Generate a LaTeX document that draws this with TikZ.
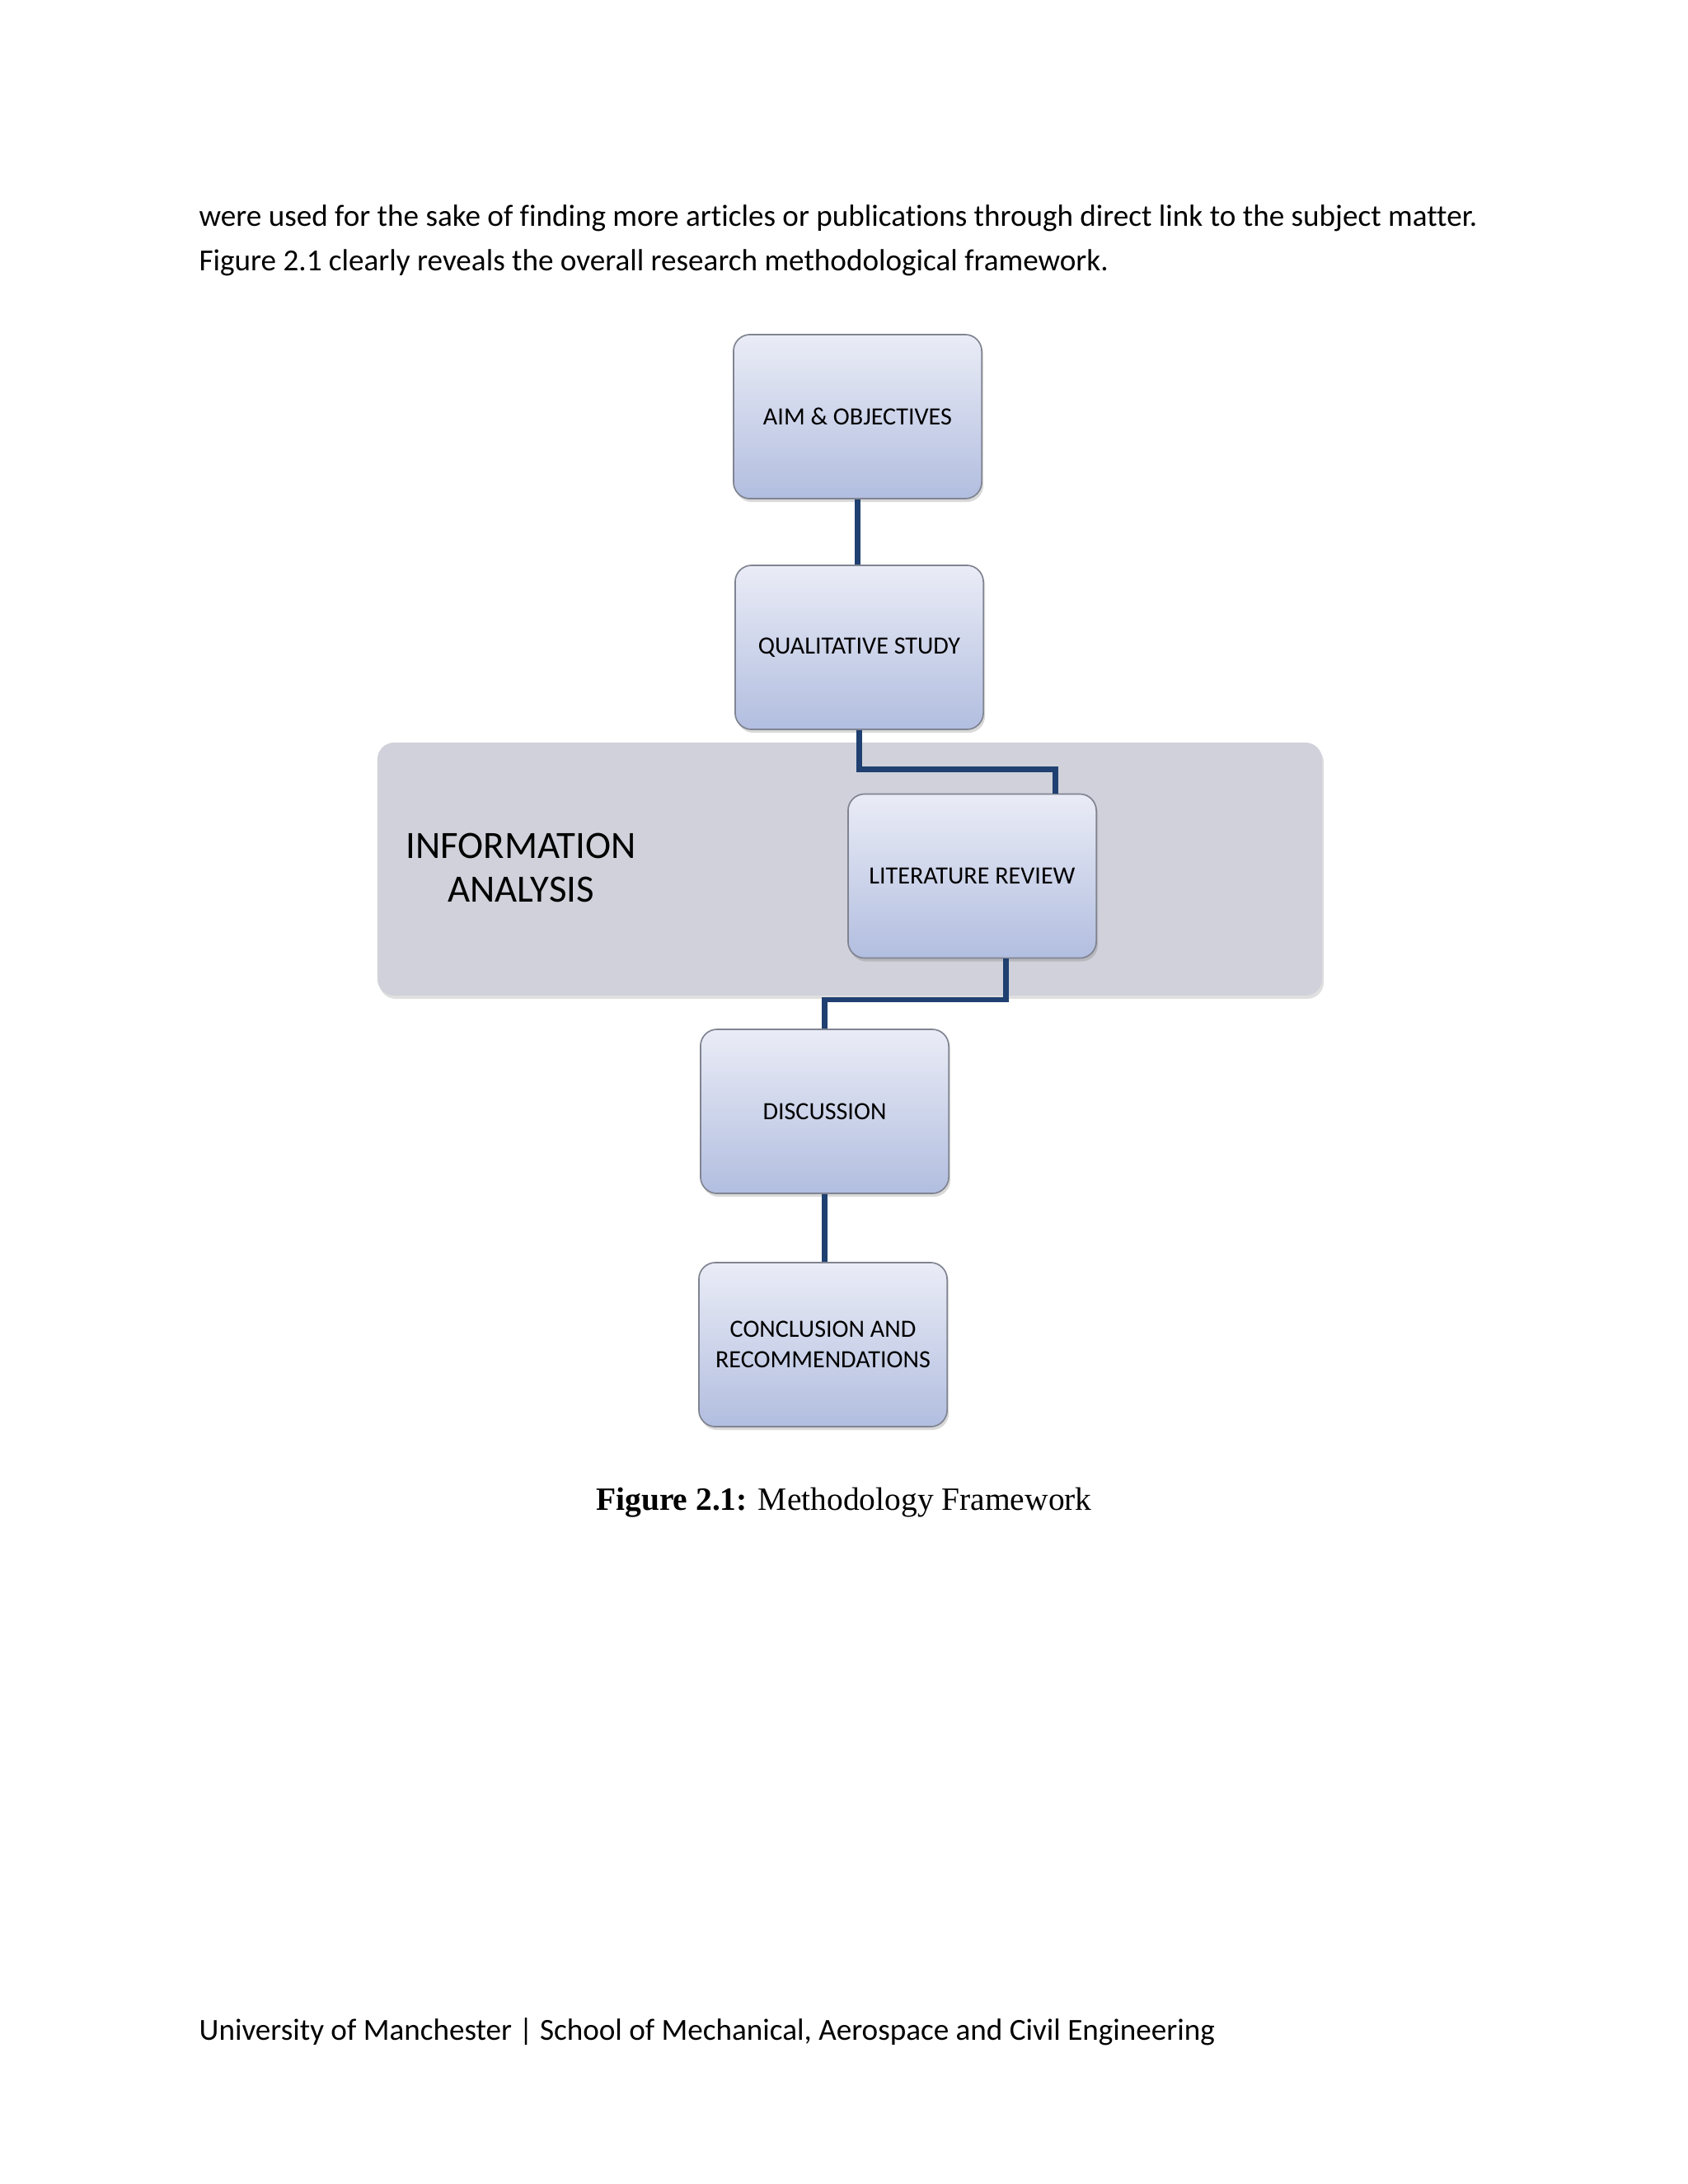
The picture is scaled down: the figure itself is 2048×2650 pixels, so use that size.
\documentclass[tikz,border=0pt]{standalone}
\usepackage{fontspec}
\setmainfont[Ligatures={NoCommon}]{Carlito}
\newfontfamily\capfont{Liberation Serif}
\usetikzlibrary{calc,shadows}

\definecolor{linkblue}{RGB}{31,64,112}
\definecolor{boxtop}{RGB}{234,236,246}
\definecolor{boxbot}{RGB}{178,190,224}
\definecolor{boxedge}{RGB}{128,132,145}
\definecolor{bandgray}{RGB}{208,209,218}

\begin{document}
\begin{tikzpicture}[
    x=0.29883pt, y=-0.29883pt,
    et/.style={font=\fontsize{11.1}{13}\selectfont, inner sep=0pt, anchor=base west},
    blk/.style={draw=boxedge, line width=0.5pt, rounded corners=6pt,
      top color=boxtop, bottom color=boxbot,
      minimum width=90pt, minimum height=59.5pt, inner sep=2pt,
      align=center, font=\fontsize{9}{11}\selectfont,
      drop shadow={opacity=0.3, shadow xshift=0.6pt, shadow yshift=-1.2pt}},
    grp/.style={fill=bandgray, rounded corners=6pt,
      minimum width=342.5pt, minimum height=91.7pt,
      drop shadow={opacity=0.25, shadow xshift=0.6pt, shadow yshift=-1.2pt}},
    lnk/.style={linkblue, line width=2pt},
  ]

  % ---- pagina ---------------------------------------------------------------
  % 1 unita' = 1 pixel del riferimento (2048 x 2650), asse y verso il basso
  \useasboundingbox (0,0) rectangle (2048,2650);

  % ---- testo sopra e sotto --------------------------------------------------
  \node[et] (riga1) at (241,274) {were used for the sake of finding more articles or publications through direct link to the subject matter.};
  \node[et] (riga2) at (241,328) {Figure 2.1 clearly reveals the overall research methodological framework.};
  \node[et] (piede) at (241,2475) {University of Manchester | School of Mechanical, Aerospace and Civil Engineering};

  % ---- fascia dell'analisi --------------------------------------------------
  \node[grp] (band) at (1031,1054.5) {};
  \node[font=\fontsize{14}{15.6}\selectfont, align=center, inner sep=0pt] (info) at (632,1053)
    {INFORMATION\\ANALYSIS};

  % ---- le fasi --------------------------------------------------------------
  \node[blk] (aim)  at (1040.5,505.5) {AIM \& OBJECTIVES};
  \node[blk] (qual) at (1042.5,785.5) {QUALITATIVE STUDY};
  \node[blk] (lr)   at (1179.5,1063)  {LITERATURE REVIEW};
  \node[blk] (disc) at (1000.5,1348.5) {DISCUSSION};
  \node[blk] (conc) at (998.5,1631.5) {CONCLUSION AND\\RECOMMENDATIONS};

  % ---- collegamenti ---------------------------------------------------------
  \draw[lnk] (aim.south) -- (aim.south |- qual.north);
  \draw[lnk] (qual.south) |- ($(lr.north)+(101,-29)$) -- ($(lr.north)+(101,0)$);
  \draw[lnk] ($(lr.south)+(41,0)$) |- ($(disc.north)+(0,-35)$) -- (disc.north);
  \draw[lnk] (disc.south) -- (disc.south |- conc.north);

  % ---- didascalia -----------------------------------------------------------
  \node[font=\capfont\fontsize{11.8}{14}\selectfont, anchor=base, inner sep=0pt] (cap) at (1024,1832)
    {\textbf{Figure 2.1:} Methodology Framework};

\end{tikzpicture}
\end{document}
